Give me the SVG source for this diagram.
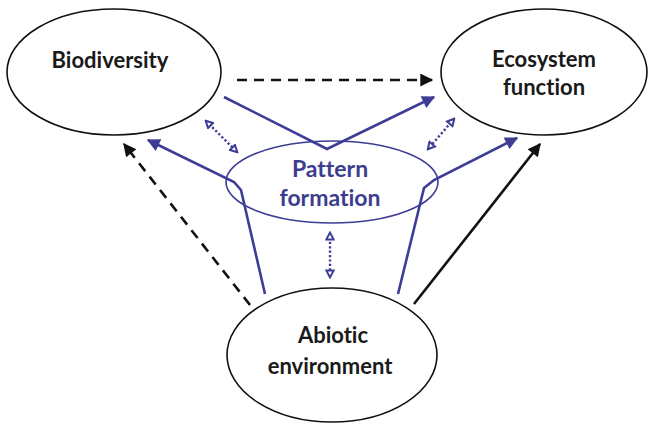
<svg xmlns="http://www.w3.org/2000/svg" width="650" height="425" viewBox="0 0 650 425">
<style>
.node{fill:#fff;stroke:#111;stroke-width:1.6}
.pf{fill:none;stroke:#3d3d96;stroke-width:1.6}
.lbl{font-family:Lato,"Liberation Sans",sans-serif;font-weight:bold;font-size:22px;text-anchor:middle;fill:#1a1a1a;font-variant-ligatures:none}
.blbl{fill:#3d3d8e;font-size:23px}
.blk{fill:none;stroke:#111;stroke-width:2.6}
.dash{stroke-dasharray:10,7}
.blu{fill:none;stroke:#3d3d96;stroke-width:2.6;stroke-linejoin:miter}
.dot{fill:none;stroke:#3d3d96;stroke-width:2.4;stroke-dasharray:2.2,2.2}
</style>
<defs>
<marker id="ak" viewBox="0 0 10 10" refX="9" refY="5" markerWidth="5.5" markerHeight="5" orient="auto" markerUnits="strokeWidth">
<path d="M0,0 L10,5 L0,10 z" fill="#111"/>
</marker>
<marker id="ab" viewBox="0 0 10 10" refX="9" refY="5" markerWidth="5.5" markerHeight="5" orient="auto" markerUnits="strokeWidth">
<path d="M0,0 L10,5 L0,10 z" fill="#3d3d96"/>
</marker>
<marker id="ad" viewBox="0 0 12 12" refX="10" refY="6" markerWidth="4" markerHeight="4" orient="auto-start-reverse" markerUnits="strokeWidth">
<path d="M2,1.5 L10.5,6 L2,10.5 z" fill="#fff" stroke="#3d3d96" stroke-width="2.5" stroke-linejoin="miter"/>
</marker>
</defs>
<g id="biodiversity">
<ellipse class="node" cx="114" cy="72" rx="107" ry="63"/>
<text class="lbl" x="110" y="68">Biodiversity</text>
</g>
<g id="ecosystem-function">
<ellipse class="node" cx="544" cy="72" rx="103" ry="63"/>
<text class="lbl" x="544" y="67">Ecosystem</text>
<text class="lbl" x="544" y="95">function</text>
</g>
<g id="abiotic-environment">
<ellipse class="node" cx="332" cy="355" rx="105" ry="67"/>
<text class="lbl" x="333" y="343">Abiotic</text>
<text class="lbl" x="330" y="374">environment</text>
</g>
<g id="pattern-formation">
<ellipse class="pf" cx="332" cy="182" rx="106" ry="41"/>
<text class="lbl blbl" x="330" y="177">Pattern</text>
<text class="lbl blbl" x="330" y="206">formation</text>
</g>
<g id="connectors">
<path class="blk dash" d="M237,80 L432,80" marker-end="url(#ak)"/>
<path class="blk dash" d="M250,305 L124,144" marker-end="url(#ak)"/>
<path class="blk" d="M414,304 L540,144" marker-end="url(#ak)"/>
<path class="blu" d="M224,97 L327,149 L434,97" marker-end="url(#ab)"/>
<path class="blu" d="M265,294 L241,190 L234,182 L148,140" marker-end="url(#ab)"/>
<path class="blu" d="M398,294 L424,188 L434,180 L517,138" marker-end="url(#ab)"/>
<path class="dot" d="M206,121 L237,152" marker-start="url(#ad)" marker-end="url(#ad)"/>
<path class="dot" d="M454,119 L428,149" marker-start="url(#ad)" marker-end="url(#ad)"/>
<path class="dot" d="M330,233 L330,277" marker-start="url(#ad)" marker-end="url(#ad)"/>
</g>
</svg>
